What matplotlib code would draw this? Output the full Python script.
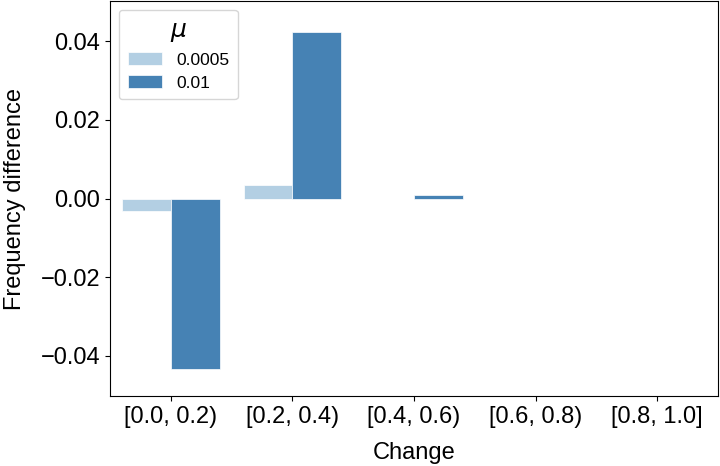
import matplotlib
matplotlib.use("Agg")
import matplotlib.pyplot as plt
import numpy as np

# bins of change and the two mutation rates
categories = ["[0.0, 0.2)", "[0.2, 0.4)", "[0.4, 0.6)", "[0.6, 0.8)", "[0.8, 1.0]"]
mu_labels = ["0.0005", "0.01"]
diff_low_mu = [-0.0033, 0.0034, -0.0001, 0.0, 0.0]
diff_high_mu = [-0.0433, 0.0423, 0.0009, 0.0, 0.0]

colors = ["#b3cfe3", "#4682b4"]

plt.rcParams['font.family'] = ['Liberation Sans', 'DejaVu Sans']

fig = plt.figure(figsize=(7.2, 4.66), dpi=100)
ax = fig.add_axes([0.153, 0.150, 0.844, 0.848])

x = np.arange(len(categories))
w = 0.4
ax.bar(x - w / 2, diff_low_mu, width=w, color=colors[0], label=mu_labels[0],
       edgecolor="white", linewidth=0.5)
ax.bar(x + w / 2, diff_high_mu, width=w, color=colors[1], label=mu_labels[1],
       edgecolor="white", linewidth=0.5)

ax.set_xlim(-0.5, len(categories) - 0.5)
ax.set_ylim(-0.0503, 0.0503)
ax.set_yticks([-0.04, -0.02, 0.0, 0.02, 0.04])
ax.set_yticklabels(["\u22120.04", "\u22120.02", "0.00", "0.02", "0.04"])
ax.set_xticks(x)
ax.set_xticklabels(categories)
ax.tick_params(labelsize=17)
ax.set_xlabel("Change", fontsize=17, labelpad=10)
ax.set_ylabel("Frequency difference", fontsize=17, labelpad=11)

leg = ax.legend(title=r"$\mu$", fontsize=12.5, title_fontsize=18, loc="upper left",
                handlelength=2.0, handleheight=0.75, labelspacing=0.45,
                borderpad=0.5)

fig.savefig("out.png", dpi=100)
